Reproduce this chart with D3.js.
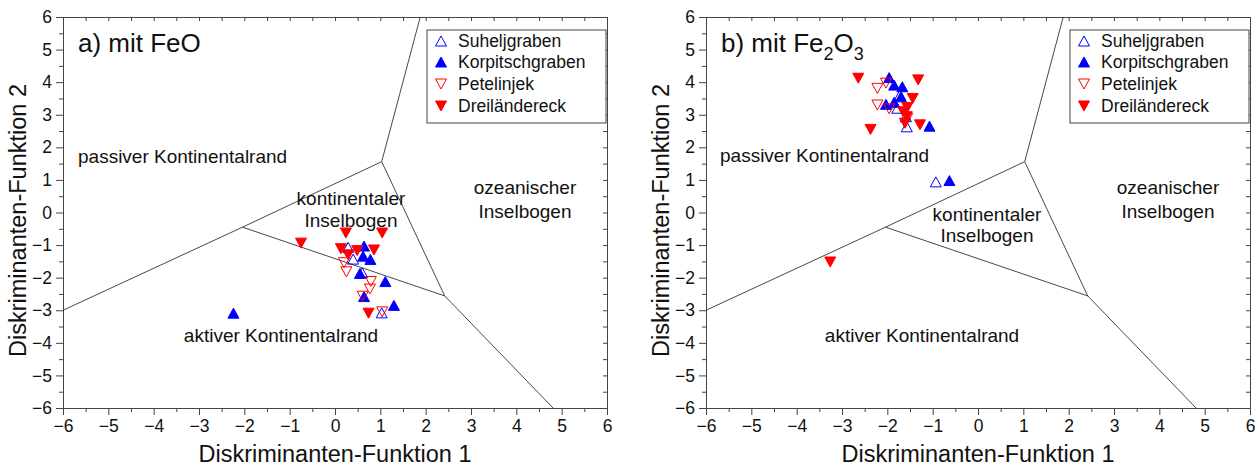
<!DOCTYPE html>
<html>
<head>
<meta charset="utf-8">
<script src="https://cdn.jsdelivr.net/npm/d3@7"></script>
<style>
  html, body { margin: 0; padding: 0; background: #fff; }
  svg { display: block; font-family: "Liberation Sans", Arial, sans-serif; }
</style>
</head>
<body>
<svg id="chart" width="1259" height="470"></svg>
<script>
// Discriminant-function diagram (Roser & Korsch type), two variants: FeO and Fe2O3

// Axis ticks
const majorTicks = [-6, -5, -4, -3, -2, -1, 0, 1, 2, 3, 4, 5, 6];

// Field boundaries (shared by both diagrams)
const boundarySegments = [
  [[-6, -3], [-2.04, -0.45]],
  [[-2.04, -0.45], [1.03, 1.56]],
  [[1.03, 1.56], [1.88, 6]],
  [[1.03, 1.56], [2.42, -2.56]],
  [[-2.04, -0.45], [2.42, -2.56]],
  [[2.42, -2.56], [4.81, -6]]
];

// Series names
const seriesNames = ["Suheljgraben", "Korpitschgraben", "Petelinjek", "Dreiländereck"];

// a) mit FeO  — [DF1, DF2]
const feoSuheljgraben = [[0.29, -1.07], [0.40, -1.43], [0.60, -1.85], [1.03, -3.08]];
const feoKorpitschgraben = [[0.64, -1.03], [0.62, -1.34], [0.78, -1.44], [0.55, -1.87], [1.11, -2.12], [0.64, -2.58], [1.30, -2.85], [-2.24, -3.09]];
const feoPetelinjek = [[0.20, -1.54], [0.25, -1.82], [0.79, -2.12], [0.77, -2.35], [0.61, -2.57], [1.04, -3.05]];
const feoDreilaendereck = [[0.24, -0.63], [1.04, -0.63], [-0.75, -0.94], [0.13, -1.11], [0.29, -1.30], [0.49, -1.17], [0.86, -1.15], [0.74, -3.09]];

// b) mit Fe2O3 — [DF1, DF2]
const fe2o3Suheljgraben = [[-1.78, 3.20], [-1.59, 2.94], [-1.57, 2.63], [-1.72, 3.61], [-0.93, 0.94]];
const fe2o3Korpitschgraben = [[-1.96, 4.14], [-1.85, 3.91], [-1.67, 3.86], [-1.70, 3.55], [-1.85, 3.38], [-2.03, 3.32], [-1.07, 2.65], [-0.63, 0.98]];
const fe2o3Petelinjek = [[-2.22, 3.81], [-2.03, 3.97], [-2.22, 3.30], [-1.96, 3.18], [-1.56, 2.89]];
const fe2o3Dreilaendereck = [[-2.64, 4.12], [-1.32, 4.07], [-1.44, 3.50], [-1.56, 3.22], [-1.65, 3.09], [-1.57, 2.94], [-1.61, 2.74], [-1.28, 2.69], [-2.37, 2.55], [-3.26, -1.52]];

const svg = d3.select("#chart");
const FONT = "'Liberation Sans', Arial, sans-serif";

// marker styles per series
const styles = [
  { dir: "up", fill: "none", stroke: "#0000ff" },
  { dir: "up", fill: "#0000ff", stroke: "#0000ff" },
  { dir: "down", fill: "none", stroke: "#ff0000" },
  { dir: "down", fill: "#ff0000", stroke: "#ff0000" }
];

function triPath(dir, w, h) {
  const hw = w / 2, hh = h / 2;
  if (dir === "up") return `M0,${-hh}L${hw},${hh}L${-hw},${hh}Z`;
  return `M0,${hh}L${hw},${-hh}L${-hw},${-hh}Z`;
}

function drawPanel(opts) {
  const { x0, x1, y0, y1, series, titleParts, labels, legendX } = opts;
  const x = d3.scaleLinear().domain([-6, 6]).range([x0, x1]);
  const y = d3.scaleLinear().domain([-6, 6]).range([y1, y0]);
  const g = svg.append("g");
  const minorTicks = d3.range(-6, 6.01, 0.5);
  const halfTicks = minorTicks.filter(v => !Number.isInteger(v));

  // bottom axis (outward ticks)
  g.append("g").attr("transform", `translate(0,${y1})`)
    .call(d3.axisBottom(x).tickValues(majorTicks).tickSize(7).tickPadding(5).tickFormat(d3.format("d")));
  g.append("g").attr("transform", `translate(0,${y1})`)
    .call(d3.axisBottom(x).tickValues(halfTicks).tickSize(4).tickFormat(""))
    .call(a => a.select(".domain").remove());
  // left axis
  g.append("g").attr("transform", `translate(${x0},0)`)
    .call(d3.axisLeft(y).tickValues(majorTicks).tickSize(7).tickPadding(4).tickFormat(d3.format("d")));
  g.append("g").attr("transform", `translate(${x0},0)`)
    .call(d3.axisLeft(y).tickValues(halfTicks).tickSize(4).tickFormat(""))
    .call(a => a.select(".domain").remove());
  // top and right axes (inward ticks)
  g.append("g").attr("transform", `translate(0,${y0})`)
    .call(d3.axisTop(x).tickValues(minorTicks).tickSize(-4).tickFormat(""));
  g.append("g").attr("transform", `translate(${x1},0)`)
    .call(d3.axisRight(y).tickValues(minorTicks).tickSize(-4).tickFormat(""));

  g.selectAll(".domain").attr("stroke", "#444").attr("stroke-width", 1);
  g.selectAll(".tick line").attr("stroke", "#444");
  g.selectAll(".tick text").attr("font-family", FONT).attr("font-size", 17.5).attr("fill", "#111");

  // axis titles
  g.append("text").attr("x", (x0 + x1) / 2).attr("y", 462).attr("text-anchor", "middle")
    .attr("font-family", FONT).attr("font-size", 23.5).attr("fill", "#111").text("Diskriminanten-Funktion 1");
  g.append("text").attr("transform", `translate(${x0 - 37},${(y0 + y1) / 2 + 8}) rotate(-90)`)
    .attr("text-anchor", "middle").attr("font-family", FONT).attr("font-size", 23.5).attr("fill", "#111")
    .text("Diskriminanten-Funktion 2");

  // field boundaries
  g.append("g").selectAll("line").data(boundarySegments).join("line")
    .attr("x1", d => x(d[0][0])).attr("y1", d => y(d[0][1]))
    .attr("x2", d => x(d[1][0])).attr("y2", d => y(d[1][1]))
    .attr("stroke", "#333").attr("stroke-width", 0.9);

  // field labels
  g.append("g").selectAll("text").data(labels).join("text")
    .attr("x", d => d.x).attr("y", d => d.y).attr("text-anchor", d => d.anchor)
    .attr("font-family", FONT).attr("font-size", 19).attr("fill", "#111").text(d => d.t);

  // panel title with optional subscripts
  const title = g.append("text").attr("x", x0 + 15).attr("y", 52)
    .attr("font-family", FONT).attr("font-size", 26).attr("fill", "#111");
  titleParts.forEach(p => {
    const ts = title.append("tspan").text(p.t);
    if (p.sub) ts.attr("font-size", 18).attr("dy", 7.5);
    else if (p.after) ts.attr("dy", -7.5);
  });

  // data points
  series.forEach((pts, i) => {
    const s = styles[i];
    g.append("g").selectAll("path").data(pts).join("path")
      .attr("transform", d => `translate(${x(d[0])},${y(d[1])})`)
      .attr("d", triPath(s.dir, 11, 10))
      .attr("fill", s.fill).attr("stroke", s.stroke).attr("stroke-width", 1);
  });

  // legend
  const lg = g.append("g");
  lg.append("rect").attr("x", legendX).attr("y", 30).attr("width", x1 - legendX - 1).attr("height", 93)
    .attr("fill", "#fff").attr("stroke", "#444").attr("stroke-width", 1);
  const ly = [41, 62, 84, 106];
  seriesNames.forEach((n, i) => {
    const s = styles[i];
    lg.append("path").attr("transform", `translate(${legendX + 14},${ly[i]})`)
      .attr("d", triPath(s.dir, 11, 10)).attr("fill", s.fill).attr("stroke", s.stroke);
    lg.append("text").attr("x", legendX + 31).attr("y", ly[i] + 6)
      .attr("font-family", FONT).attr("font-size", 17.5).attr("fill", "#111").text(n);
  });
}

drawPanel({
  x0: 63, x1: 607, y0: 17, y1: 408,
  series: [feoSuheljgraben, feoKorpitschgraben, feoPetelinjek, feoDreilaendereck],
  titleParts: [{ t: "a) mit FeO" }],
  legendX: 427,
  labels: [
    { t: "passiver Kontinentalrand", x: 78, y: 163, anchor: "start" },
    { t: "kontinentaler", x: 351, y: 205, anchor: "middle" },
    { t: "Inselbogen", x: 351, y: 227, anchor: "middle" },
    { t: "ozeanischer", x: 525, y: 194, anchor: "middle" },
    { t: "Inselbogen", x: 525, y: 218, anchor: "middle" },
    { t: "aktiver Kontinentalrand", x: 281, y: 342, anchor: "middle" }
  ]
});

drawPanel({
  x0: 706, x1: 1250, y0: 17, y1: 408,
  series: [fe2o3Suheljgraben, fe2o3Korpitschgraben, fe2o3Petelinjek, fe2o3Dreilaendereck],
  titleParts: [{ t: "b) mit Fe" }, { t: "2", sub: true }, { t: "O", after: true }, { t: "3", sub: true }],
  legendX: 1070,
  labels: [
    { t: "passiver Kontinentalrand", x: 720, y: 162, anchor: "start" },
    { t: "kontinentaler", x: 987, y: 221, anchor: "middle" },
    { t: "Inselbogen", x: 987, y: 242, anchor: "middle" },
    { t: "ozeanischer", x: 1168, y: 194, anchor: "middle" },
    { t: "Inselbogen", x: 1168, y: 218, anchor: "middle" },
    { t: "aktiver Kontinentalrand", x: 922, y: 342, anchor: "middle" }
  ]
});
</script>
</body>
</html>
